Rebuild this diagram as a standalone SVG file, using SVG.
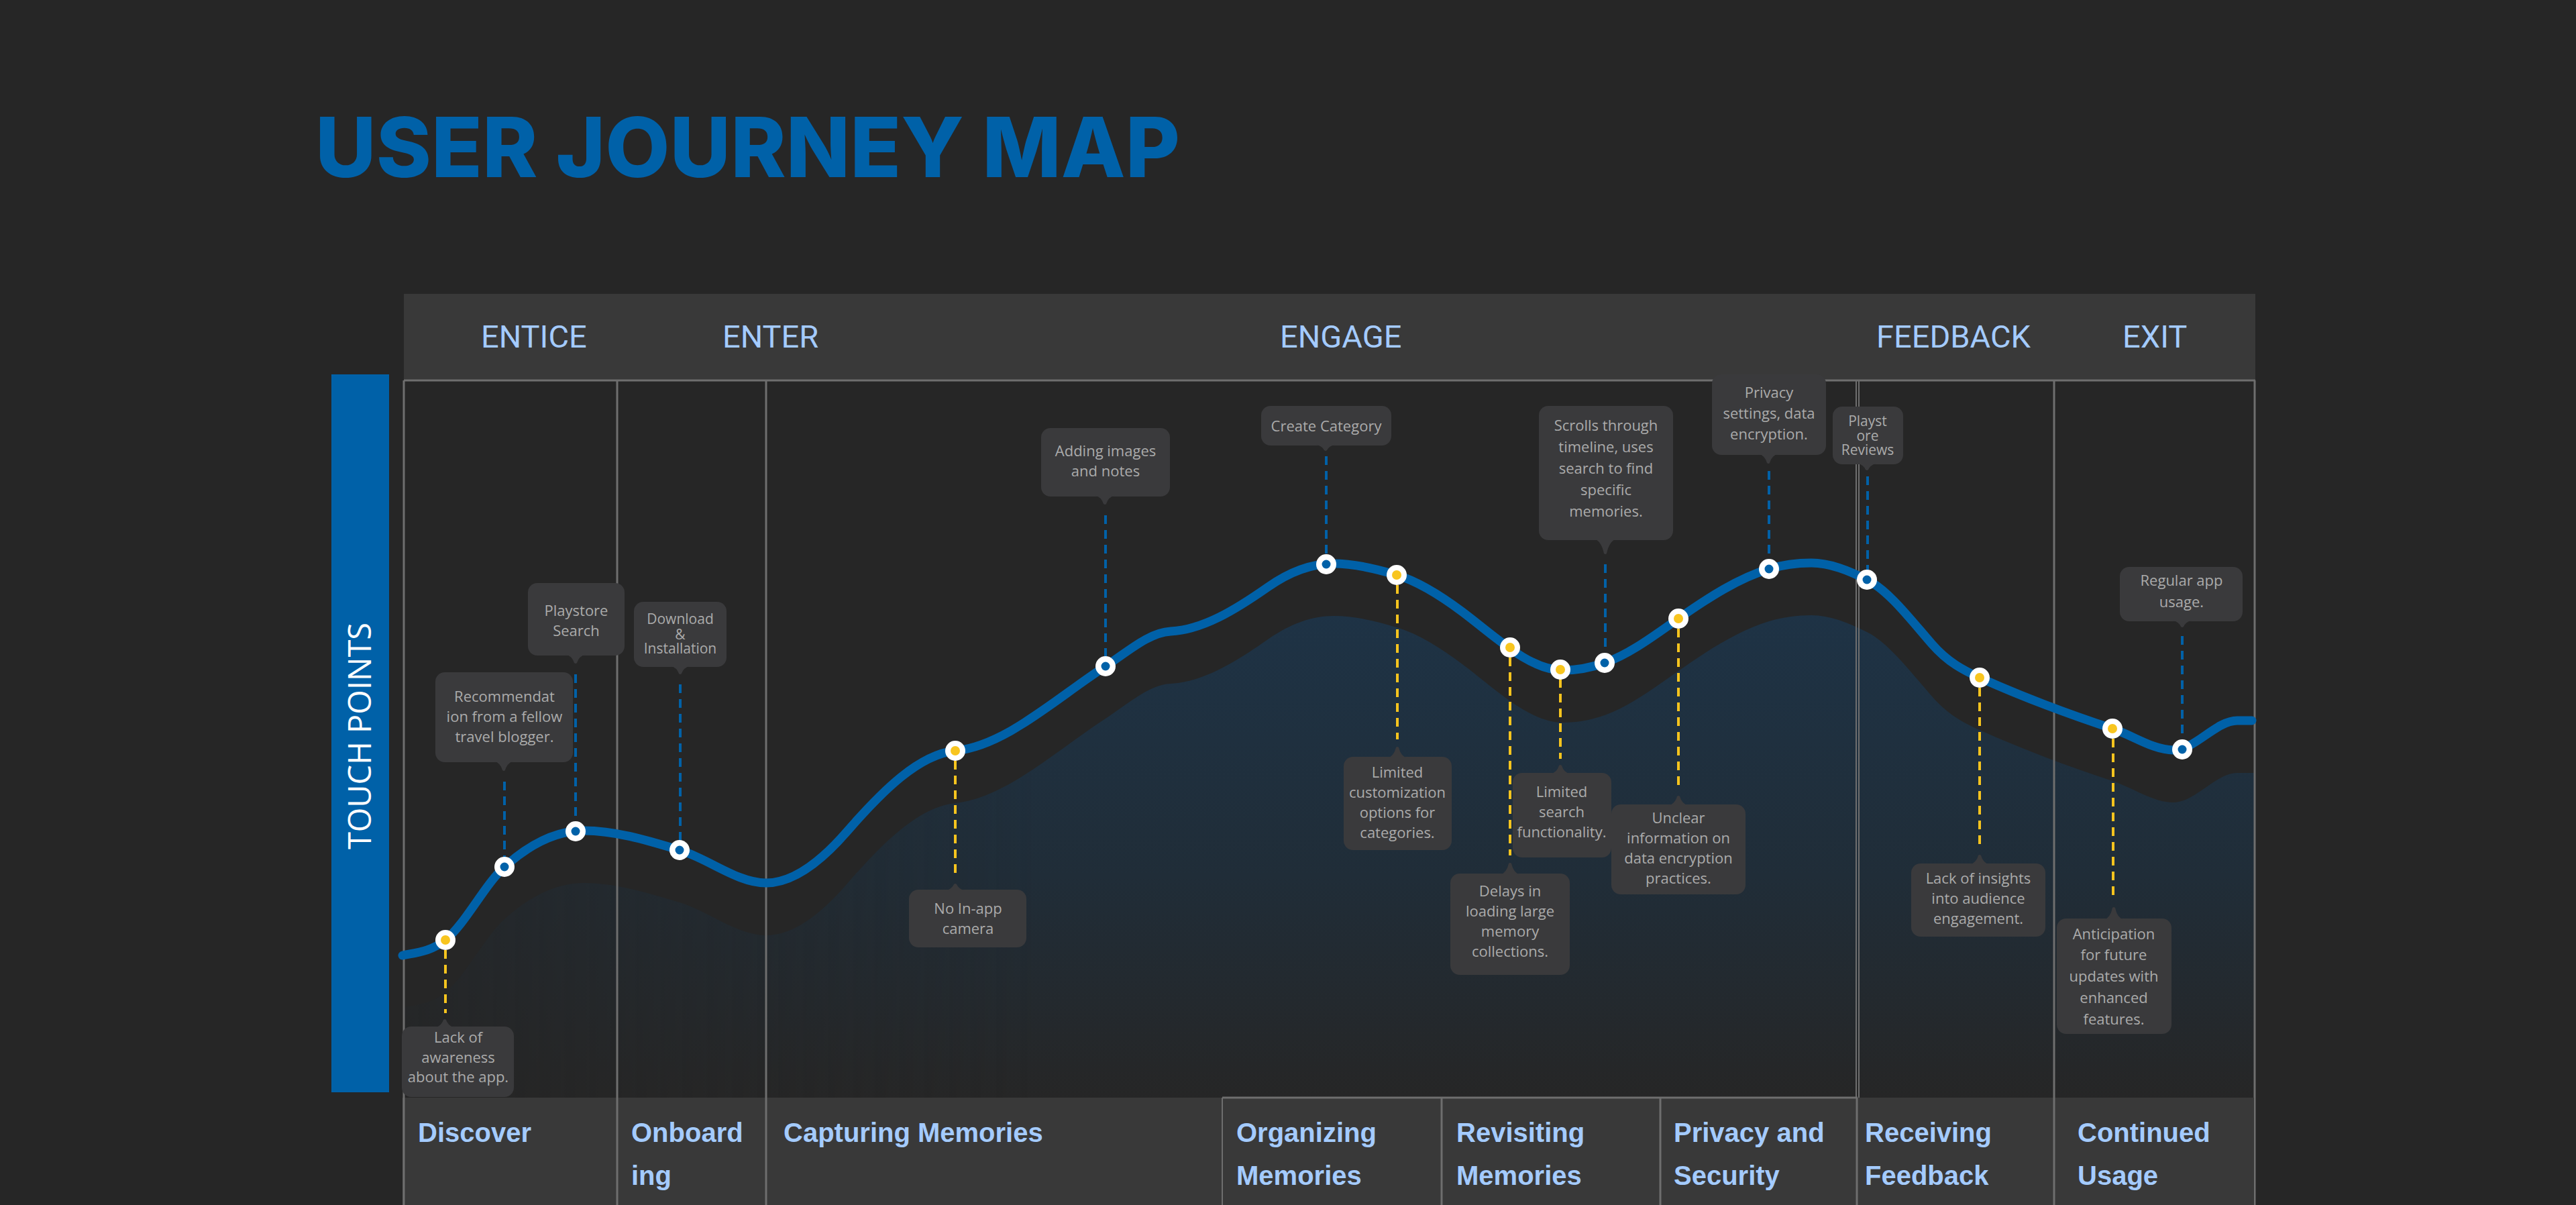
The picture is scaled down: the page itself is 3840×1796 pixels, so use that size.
<svg xmlns="http://www.w3.org/2000/svg" width="3840" height="1796" viewBox="0 0 3840 1796">
<defs>
<style>
.phase{font-family:Roboto,"Liberation Sans",sans-serif;font-size:47px;fill:#A4CBFF}
.stage{font-family:"Liberation Sans",Arial,sans-serif;font-weight:700;font-size:40px;fill:#A4CBFF}
.box{fill:#3A3A3C}
.ct{font-family:"Open Sans","Liberation Sans",sans-serif;font-size:22px;fill:#ABABAB;text-anchor:middle}
.cs{font-size:21px}
.frame{stroke:#6E6E6E;stroke-width:3;fill:none}
.db{stroke:#0061A8;stroke-width:4;stroke-dasharray:13 9;fill:none}
.dy{stroke:#F6C41E;stroke-width:4;stroke-dasharray:13 9;fill:none}
.ring{fill:#FFFFFF}
.ib{fill:#0061A8}
.iy{fill:#F8C51F}
</style>
<linearGradient id="shadeV" gradientUnits="userSpaceOnUse" x1="0" y1="900" x2="0" y2="1640">
<stop offset="0" stop-color="#1E3346"/>
<stop offset="0.55" stop-color="#202D38"/>
<stop offset="1" stop-color="#262626"/>
</linearGradient>
<linearGradient id="fadeH" gradientUnits="userSpaceOnUse" x1="602" y1="0" x2="1550" y2="0">
<stop offset="0" stop-color="#fff" stop-opacity="0.3"/>
<stop offset="1" stop-color="#fff" stop-opacity="1"/>
</linearGradient>
<mask id="shadeMask" maskUnits="userSpaceOnUse" x="0" y="0" width="3840" height="1796">
<rect x="602" y="567" width="2759" height="1069" fill="url(#fadeH)"/>
</mask>
<clipPath id="frameClip"><rect x="602" y="567" width="2759" height="1069"/></clipPath>
</defs>

<rect x="0" y="0" width="3840" height="1796" fill="#262626"/>

<text x="470" y="264" textLength="1289" lengthAdjust="spacingAndGlyphs" style="font-family:Inter,'Liberation Sans',sans-serif;font-weight:800;font-size:124px;fill:#0061A8">USER JOURNEY MAP</text>

<g id="touch-points">
<rect x="494" y="558" width="86" height="1070" fill="#0061A8"/>
<text transform="translate(553,1097) rotate(-90)" text-anchor="middle" style="font-family:'Open Sans','Liberation Sans',sans-serif;font-size:47px;fill:#FFFFFF">TOUCH POINTS</text>
</g>

<g id="header">
<rect x="602" y="438" width="2760" height="129" fill="#393939"/>
<text class="phase" x="717" y="518">ENTICE</text>
<text class="phase" x="1077" y="518">ENTER</text>
<text class="phase" x="1908" y="518">ENGAGE</text>
<text class="phase" x="2797" y="518">FEEDBACK</text>
<text class="phase" x="3164" y="518">EXIT</text>
</g>

<g id="shadow" clip-path="url(#frameClip)">
<path mask="url(#shadeMask)" fill="url(#shadeV)" d="M600,1502 C621.3,1497.7 642.7,1496.1 664,1479 C693.3,1455.5 722.7,1396.4 752,1370 C791.3,1334.6 830.7,1316 870,1316 C917.7,1316 965.3,1330.7 1013,1345 C1056,1357.9 1099,1394 1142,1394 C1182,1394 1222,1364 1262,1318 C1316,1255.9 1370,1202.4 1424,1197 C1498.7,1189.5 1573.3,1119.5 1648,1071 C1680.3,1050 1712.7,1020.6 1745,1019 C1793.3,1016.6 1841.7,986.8 1890,953 C1922.7,930.1 1955.3,918 1988,918 C2019.3,918 2050.7,925.6 2082,935 C2114.7,944.8 2147.3,965.5 2180,990 C2230,1027.5 2280,1077 2330,1077 C2350.7,1077 2371.3,1073.2 2392,1066 C2428.7,1053.2 2465.3,1025.7 2502,1000 C2547,968.5 2592,939.5 2637,926 C2658,919.7 2679,917 2700,917 C2727.7,917 2755.3,928.2 2783,942 C2815.3,958.2 2847.7,1000.9 2880,1038 C2903.7,1065.2 2927.3,1077.3 2951,1088 C3017,1117.7 3083,1142.2 3149,1164 C3179.3,1174 3209.7,1196 3240,1196 C3271.7,1196 3303.3,1152 3335,1152 L3362,1152 L3362,1640 L600,1640 Z"/>
</g>

<g id="frame">
<line class="frame" x1="602" y1="567" x2="3362" y2="567"/>
<line class="frame" x1="602" y1="567" x2="602" y2="1796"/>
<line class="frame" x1="920" y1="567" x2="920" y2="1796"/>
<line class="frame" x1="1142" y1="567" x2="1142" y2="1796"/>
<line class="frame" x1="2767" y1="567" x2="2767" y2="1796" style="stroke-width:2"/>
<line class="frame" x1="2771" y1="567" x2="2771" y2="1796" style="stroke-width:2"/>
<line class="frame" x1="3062" y1="567" x2="3062" y2="1796"/>
<line class="frame" x1="3361" y1="567" x2="3361" y2="1796"/>
</g>

<g id="connectors">
<line class="dy" x1="664" y1="1416" x2="664" y2="1510"/>
<line class="dy" x1="1424" y1="1134" x2="1424" y2="1305"/>
<line class="dy" x1="2083" y1="872" x2="2083" y2="1102"/>
<line class="dy" x1="2251" y1="980" x2="2251" y2="1275"/>
<line class="dy" x1="2326" y1="1012" x2="2326" y2="1131"/>
<line class="dy" x1="2502" y1="937" x2="2502" y2="1177"/>
<line class="dy" x1="2951" y1="1025" x2="2951" y2="1264"/>
<line class="dy" x1="3150" y1="1101" x2="3150" y2="1342"/>
<line class="db" x1="752" y1="1165" x2="752" y2="1277"/>
<line class="db" x1="858" y1="1005" x2="858" y2="1225"/>
<line class="db" x1="1014" y1="1020" x2="1014" y2="1252"/>
<line class="db" x1="1648" y1="768" x2="1648" y2="978"/>
<line class="db" x1="1977" y1="680" x2="1977" y2="826"/>
<line class="db" x1="2393" y1="841" x2="2393" y2="973"/>
<line class="db" x1="2637" y1="702" x2="2637" y2="833"/>
<line class="db" x1="2784" y1="710" x2="2784" y2="849"/>
<line class="db" x1="3253" y1="948" x2="3253" y2="1102"/>
</g>

<g id="journey-curve">
<path fill="none" stroke="#0061A8" stroke-width="13" stroke-linecap="round" d="M600,1424 C621.3,1419.7 642.7,1418.1 664,1401 C693.3,1377.5 722.7,1318.4 752,1292 C791.3,1256.6 830.7,1238 870,1238 C917.7,1238 965.3,1252.7 1013,1267 C1056,1279.9 1099,1316 1142,1316 C1182,1316 1222,1286 1262,1240 C1316,1177.9 1370,1124.4 1424,1119 C1498.7,1111.5 1573.3,1041.5 1648,993 C1680.3,972 1712.7,942.6 1745,941 C1793.3,938.6 1841.7,908.8 1890,875 C1922.7,852.1 1955.3,840 1988,840 C2019.3,840 2050.7,847.6 2082,857 C2114.7,866.8 2147.3,887.5 2180,912 C2230,949.5 2280,999 2330,999 C2350.7,999 2371.3,995.2 2392,988 C2428.7,975.2 2465.3,947.7 2502,922 C2547,890.5 2592,861.5 2637,848 C2658,841.7 2679,839 2700,839 C2727.7,839 2755.3,850.2 2783,864 C2815.3,880.2 2847.7,922.9 2880,960 C2903.7,987.2 2927.3,999.3 2951,1010 C3017,1039.7 3083,1064.2 3149,1086 C3179.3,1096 3209.7,1118 3240,1118 C3271.7,1118 3303.3,1074 3335,1074 L3357,1074"/>
</g>

<g id="touchpoint-markers">
<g id="m1"><circle class="ring" cx="664" cy="1401" r="15"/><circle class="iy" cx="664" cy="1401" r="7"/></g>
<g id="m2"><circle class="ring" cx="752" cy="1292" r="15"/><circle class="ib" cx="752" cy="1292" r="6.5"/></g>
<g id="m3"><circle class="ring" cx="858" cy="1239" r="15"/><circle class="ib" cx="858" cy="1239" r="6.5"/></g>
<g id="m4"><circle class="ring" cx="1013" cy="1267" r="15"/><circle class="ib" cx="1013" cy="1267" r="6.5"/></g>
<g id="m5"><circle class="ring" cx="1424" cy="1119" r="15"/><circle class="iy" cx="1424" cy="1119" r="7"/></g>
<g id="m6"><circle class="ring" cx="1648" cy="993" r="15"/><circle class="ib" cx="1648" cy="993" r="6.5"/></g>
<g id="m7"><circle class="ring" cx="1977" cy="841" r="15"/><circle class="ib" cx="1977" cy="841" r="6.5"/></g>
<g id="m8"><circle class="ring" cx="2082" cy="857" r="15"/><circle class="iy" cx="2082" cy="857" r="7"/></g>
<g id="m9"><circle class="ring" cx="2251" cy="965" r="15"/><circle class="iy" cx="2251" cy="965" r="7"/></g>
<g id="m10"><circle class="ring" cx="2326" cy="998" r="15"/><circle class="iy" cx="2326" cy="998" r="7"/></g>
<g id="m11"><circle class="ring" cx="2392" cy="988" r="15"/><circle class="ib" cx="2392" cy="988" r="6.5"/></g>
<g id="m12"><circle class="ring" cx="2502" cy="922" r="15"/><circle class="iy" cx="2502" cy="922" r="7"/></g>
<g id="m13"><circle class="ring" cx="2637" cy="848" r="15"/><circle class="ib" cx="2637" cy="848" r="6.5"/></g>
<g id="m14"><circle class="ring" cx="2783" cy="864" r="15"/><circle class="ib" cx="2783" cy="864" r="6.5"/></g>
<g id="m15"><circle class="ring" cx="2951" cy="1010" r="15"/><circle class="iy" cx="2951" cy="1010" r="7"/></g>
<g id="m16"><circle class="ring" cx="3149" cy="1086" r="15"/><circle class="iy" cx="3149" cy="1086" r="7"/></g>
<g id="m17"><circle class="ring" cx="3253" cy="1117" r="15"/><circle class="ib" cx="3253" cy="1117" r="6.5"/></g>
</g>

<g id="bottom-band">
<rect x="602" y="1636" width="2760" height="160" fill="#393939"/>
<line class="frame" x1="1822" y1="1636" x2="2769" y2="1636"/>
<line class="frame" x1="602" y1="1636" x2="602" y2="1796"/>
<line class="frame" x1="920" y1="1636" x2="920" y2="1796"/>
<line class="frame" x1="1142" y1="1636" x2="1142" y2="1796"/>
<line class="frame" x1="1822" y1="1636" x2="1822" y2="1796" style="stroke-width:2"/>
<line class="frame" x1="2149" y1="1636" x2="2149" y2="1796"/>
<line class="frame" x1="2475" y1="1636" x2="2475" y2="1796"/>
<line class="frame" x1="2768" y1="1636" x2="2768" y2="1796"/>
<line class="frame" x1="3062" y1="1636" x2="3062" y2="1796"/>
<line class="frame" x1="3361" y1="1636" x2="3361" y2="1796" style="stroke-width:2"/>
</g>

<g id="stage-discover"><text class="stage" x="623" y="1702">Discover</text></g>
<g id="stage-onboarding"><text class="stage" x="941" y="1702">Onboard</text><text class="stage" x="941" y="1766">ing</text></g>
<g id="stage-capturing"><text class="stage" x="1168" y="1702">Capturing Memories</text></g>
<g id="stage-organizing"><text class="stage" x="1843" y="1702">Organizing</text><text class="stage" x="1843" y="1766">Memories</text></g>
<g id="stage-revisiting"><text class="stage" x="2171" y="1702">Revisiting</text><text class="stage" x="2171" y="1766">Memories</text></g>
<g id="stage-privacy"><text class="stage" x="2495" y="1702">Privacy and</text><text class="stage" x="2495" y="1766">Security</text></g>
<g id="stage-feedback"><text class="stage" x="2780" y="1702">Receiving</text><text class="stage" x="2780" y="1766">Feedback</text></g>
<g id="stage-continued"><text class="stage" x="3097" y="1702">Continued</text><text class="stage" x="3097" y="1766">Usage</text></g>

<g id="c1">
<rect class="box" x="599" y="1530" width="167" height="105" rx="14"/>
<path class="box" d="M648,1532 L678,1532 Q668,1529 665,1520 Q663,1518 661,1520 Q658,1529 648,1532 Z"/>
<text class="ct"><tspan x="683" y="1554">Lack of</tspan><tspan x="683" y="1584">awareness</tspan><tspan x="683" y="1613">about the app.</tspan></text>
</g>
<g id="c2">
<rect class="box" x="649" y="1002" width="205" height="134" rx="14"/>
<path class="box" d="M736,1134 L766,1134 Q756,1137 753,1148 Q751,1150 749,1148 Q746,1137 736,1134 Z"/>
<text class="ct"><tspan x="752" y="1046">Recommendat</tspan><tspan x="752" y="1076">ion from a fellow</tspan><tspan x="752" y="1106">travel blogger.</tspan></text>
</g>
<g id="c3">
<rect class="box" x="787" y="869" width="144" height="108" rx="14"/>
<path class="box" d="M843,975 L873,975 Q863,978 860,988 Q858,990 856,988 Q853,978 843,975 Z"/>
<text class="ct"><tspan x="859" y="918">Playstore</tspan><tspan x="859" y="948">Search</tspan></text>
</g>
<g id="c4">
<rect class="box" x="945" y="897" width="138" height="97" rx="14"/>
<path class="box" d="M999,992 L1029,992 Q1019,995 1016,1004 Q1014,1006 1012,1004 Q1009,995 999,992 Z"/>
<text class="ct cs"><tspan x="1014" y="930">Download</tspan><tspan x="1014" y="953">&amp;</tspan><tspan x="1014" y="974">Installation</tspan></text>
</g>
<g id="c5">
<rect class="box" x="1355" y="1326" width="175" height="86" rx="14"/>
<path class="box" d="M1409,1328 L1439,1328 Q1429,1325 1426,1318 Q1424,1316 1422,1318 Q1419,1325 1409,1328 Z"/>
<text class="ct"><tspan x="1443" y="1362">No In-app</tspan><tspan x="1443" y="1392">camera</tspan></text>
</g>
<g id="c6">
<rect class="box" x="1552" y="638" width="192" height="102" rx="14"/>
<path class="box" d="M1632,738 L1662,738 Q1652,741 1649,751 Q1647,753 1645,751 Q1642,741 1632,738 Z"/>
<text class="ct"><tspan x="1648" y="680">Adding images</tspan><tspan x="1648" y="710">and notes</tspan></text>
</g>
<g id="c7">
<rect class="box" x="1880" y="605" width="194" height="59" rx="14"/>
<path class="box" d="M1961,662 L1991,662 Q1981,665 1978,671 Q1976,673 1974,671 Q1971,665 1961,662 Z"/>
<text class="ct"><tspan x="1977" y="643">Create Category</tspan></text>
</g>
<g id="c8">
<rect class="box" x="2003" y="1128" width="161" height="139" rx="14"/>
<path class="box" d="M2068,1130 L2098,1130 Q2088,1127 2085,1114 Q2083,1112 2081,1114 Q2078,1127 2068,1130 Z"/>
<text class="ct"><tspan x="2083" y="1159">Limited</tspan><tspan x="2083" y="1189">customization</tspan><tspan x="2083" y="1219">options for</tspan><tspan x="2083" y="1249">categories.</tspan></text>
</g>
<g id="c9">
<rect class="box" x="2162" y="1302" width="178" height="151" rx="14"/>
<path class="box" d="M2236,1304 L2266,1304 Q2256,1301 2253,1287 Q2251,1285 2249,1287 Q2246,1301 2236,1304 Z"/>
<text class="ct"><tspan x="2251" y="1336">Delays in</tspan><tspan x="2251" y="1366">loading large</tspan><tspan x="2251" y="1396">memory</tspan><tspan x="2251" y="1426">collections.</tspan></text>
</g>
<g id="c10">
<rect class="box" x="2255" y="1152" width="147" height="126" rx="14"/>
<path class="box" d="M2311,1154 L2341,1154 Q2331,1151 2328,1141 Q2326,1139 2324,1141 Q2321,1151 2311,1154 Z"/>
<text class="ct"><tspan x="2328" y="1188">Limited</tspan><tspan x="2328" y="1218">search</tspan><tspan x="2328" y="1248">functionality.</tspan></text>
</g>
<g id="c11">
<rect class="box" x="2294" y="605" width="200" height="200" rx="14"/>
<path class="box" d="M2376,803 L2410,803 Q2399,806 2395,825 Q2393,827 2391,825 Q2387,806 2376,803 Z"/>
<text class="ct"><tspan x="2394" y="642">Scrolls through</tspan><tspan x="2394" y="674">timeline, uses</tspan><tspan x="2394" y="706">search to find</tspan><tspan x="2394" y="738">specific</tspan><tspan x="2394" y="770">memories.</tspan></text>
</g>
<g id="c12">
<rect class="box" x="2402" y="1199" width="200" height="134" rx="14"/>
<path class="box" d="M2487,1201 L2517,1201 Q2507,1198 2504,1187 Q2502,1185 2500,1187 Q2497,1198 2487,1201 Z"/>
<text class="ct"><tspan x="2502" y="1227">Unclear</tspan><tspan x="2502" y="1257">information on</tspan><tspan x="2502" y="1287">data encryption</tspan><tspan x="2502" y="1317">practices.</tspan></text>
</g>
<g id="c13">
<rect class="box" x="2552" y="558" width="170" height="120" rx="14"/>
<path class="box" d="M2621,676 L2651,676 Q2641,679 2638,690 Q2636,692 2634,690 Q2631,679 2621,676 Z"/>
<text class="ct"><tspan x="2637" y="593">Privacy</tspan><tspan x="2637" y="624">settings, data</tspan><tspan x="2637" y="655">encryption.</tspan></text>
</g>
<g id="c14">
<rect class="box" x="2732" y="606" width="105" height="86" rx="14"/>
<path class="box" d="M2768,690 L2798,690 Q2788,693 2785,700 Q2783,702 2781,700 Q2778,693 2768,690 Z"/>
<text class="ct cs"><tspan x="2784" y="635">Playst</tspan><tspan x="2784" y="657">ore</tspan><tspan x="2784" y="678">Reviews</tspan></text>
</g>
<g id="c15">
<rect class="box" x="2849" y="1287" width="200" height="109" rx="14"/>
<path class="box" d="M2936,1289 L2966,1289 Q2956,1286 2953,1275 Q2951,1273 2949,1275 Q2946,1286 2936,1289 Z"/>
<text class="ct"><tspan x="2949" y="1317">Lack of insights</tspan><tspan x="2949" y="1347">into audience</tspan><tspan x="2949" y="1377">engagement.</tspan></text>
</g>
<g id="c16">
<rect class="box" x="3066" y="1369" width="171" height="172" rx="14"/>
<path class="box" d="M3136,1371 L3166,1371 Q3156,1368 3153,1353 Q3151,1351 3149,1353 Q3146,1368 3136,1371 Z"/>
<text class="ct"><tspan x="3151" y="1400">Anticipation</tspan><tspan x="3151" y="1431">for future</tspan><tspan x="3151" y="1463">updates with</tspan><tspan x="3151" y="1495">enhanced</tspan><tspan x="3151" y="1527">features.</tspan></text>
</g>
<g id="c17">
<rect class="box" x="3160" y="845" width="183" height="81" rx="14"/>
<path class="box" d="M3238,924 L3268,924 Q3258,927 3255,934 Q3253,936 3251,934 Q3248,927 3238,924 Z"/>
<text class="ct"><tspan x="3252" y="873">Regular app</tspan><tspan x="3252" y="905">usage.</tspan></text>
</g>
</svg>
